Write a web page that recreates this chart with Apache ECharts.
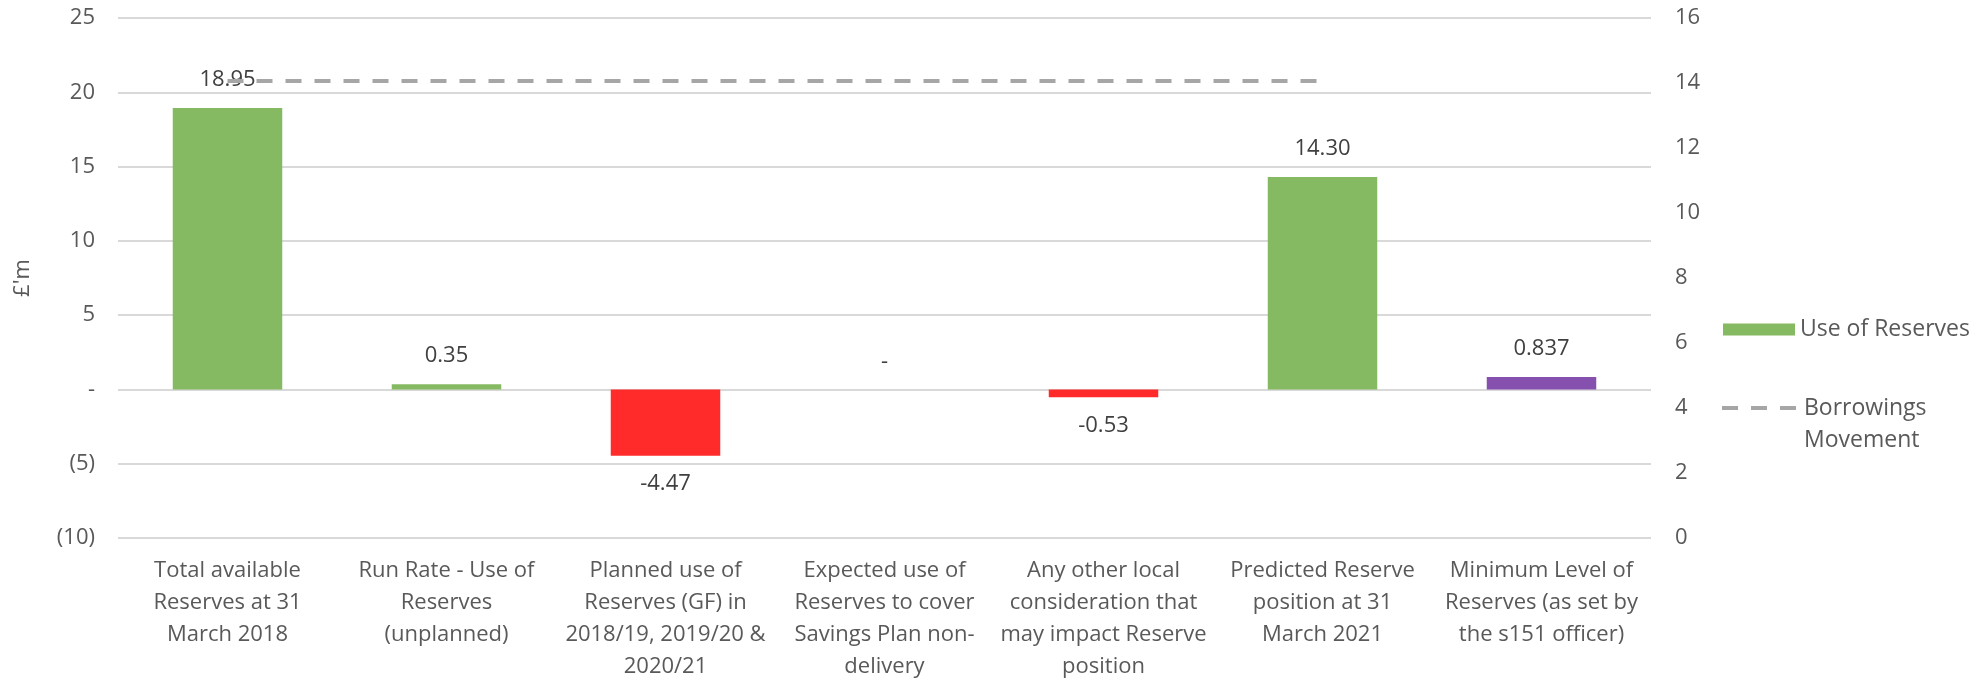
<!DOCTYPE html>
<html>
<head>
<meta charset="utf-8">
<script src="https://cdn.jsdelivr.net/npm/echarts@6/dist/echarts.min.js"></script>
<style>
html,body{margin:0;padding:0;background:#fff;}
#c{width:1988px;height:683px;}
</style>
</head>
<body>
<div id="c"></div>
<script>
// ---- data ----
var categories = [
  "Total available\nReserves at 31\nMarch 2018",
  "Run Rate - Use of\nReserves\n(unplanned)",
  "Planned use of\nReserves (GF) in\n2018/19, 2019/20 &\n2020/21",
  "Expected use of\nReserves to cover\nSavings Plan non-\ndelivery",
  "Any other local\nconsideration that\nmay impact Reserve\nposition",
  "Predicted Reserve\nposition at 31\nMarch 2021",
  "Minimum Level of\nReserves (as set by\nthe s151 officer)"
];
var useOfReserves = [18.95, 0.35, -4.47, 0, -0.53, 14.30, 0.837];
var borrowingsMovement = [14.06, 14.06, 14.06, 14.06, 14.06, 14.06, null];
var barColors = ["#86BA62", "#86BA62", "#FF2A2A", "#86BA62", "#FF2A2A", "#86BA62", "#8651AE"];
var leftTicks = { min: -10, max: 25, interval: 5 };
var rightTicks = { min: 0, max: 16, interval: 2 };

var FONT = "'Open Sans', sans-serif";
var TXT = "#595959";
var FS = 22;

function fmtVal(v) {
  if (v === 0) return "-";
  var dec = (String(v).split(".")[1] || "").length;
  return dec < 2 ? v.toFixed(2) : String(v);
}

var barData = useOfReserves.map(function (v, i) {
  return {
    value: v,
    itemStyle: { color: barColors[i] },
    label: { position: v < 0 ? "bottom" : "top" }
  };
});

var chart = echarts.init(document.getElementById("c"), null, { renderer: "canvas" });
chart.setOption({
  animation: false,
  backgroundColor: "#fff",
  textStyle: { fontFamily: FONT },
  grid: { left: 118, right: 337, top: 18, bottom: 140, containLabel: false },
  legend: [
    {
      data: ["Use of Reserves"],
      left: 1723, top: 318, padding: 0,
      icon: "rect", itemWidth: 72, itemHeight: 12,
      textStyle: { fontFamily: FONT, fontSize: 23, color: TXT }
    },
    {
      data: ["Borrowings Movement"],
      left: 1720, top: 360, padding: 0,
      itemWidth: 77, itemHeight: 14,
      itemStyle: { opacity: 0 },
      lineStyle: { color: "#A6A6A6", width: 4, type: [16, 13], opacity: 1 },
      formatter: function (n) { return "\n" + n.replace(" ", "\n"); },
      textStyle: { fontFamily: FONT, fontSize: 23, color: TXT, lineHeight: 32 }
    }
  ],
  xAxis: {
    type: "category",
    data: categories,
    axisLine: { show: false },
    axisTick: { show: false },
    axisLabel: {
      interval: 0, margin: 17,
      fontFamily: FONT, fontSize: FS, lineHeight: 32, color: TXT, align: "center"
    }
  },
  yAxis: [
    {
      type: "value",
      min: leftTicks.min, max: leftTicks.max, interval: leftTicks.interval,
      name: "£'m", nameLocation: "middle", nameRotate: 90, nameGap: 84,
      nameTextStyle: { fontFamily: FONT, fontSize: FS, color: TXT },
      axisLine: { show: false }, axisTick: { show: false },
      splitLine: { lineStyle: { color: "#D9D9D9", width: 2 } },
      axisLabel: {
        margin: 23, fontFamily: FONT, fontSize: FS, color: TXT,
        formatter: function (v) { return v === 0 ? "-" : (v < 0 ? "(" + (-v) + ")" : String(v)); }
      }
    },
    {
      type: "value",
      min: rightTicks.min, max: rightTicks.max, interval: rightTicks.interval,
      position: "right",
      axisLine: { show: false }, axisTick: { show: false },
      splitLine: { show: false },
      axisLabel: { margin: 24, fontFamily: FONT, fontSize: FS, color: TXT }
    }
  ],
  series: [
    {
      name: "Use of Reserves",
      type: "bar",
      barWidth: "50%",
      itemStyle: { color: "#86BA62" },
      label: {
        show: true, distance: 17,
        fontFamily: FONT, fontSize: FS, color: "#404040",
        formatter: function (p) { return fmtVal(p.value); }
      },
      data: barData
    },
    {
      name: "Borrowings Movement",
      type: "line",
      yAxisIndex: 1,
      symbol: "none",
      lineStyle: { color: "#A6A6A6", width: 4, type: [16, 13] },
      itemStyle: { color: "#A6A6A6" },
      data: borrowingsMovement
    }
  ]
});
</script>
</body>
</html>
